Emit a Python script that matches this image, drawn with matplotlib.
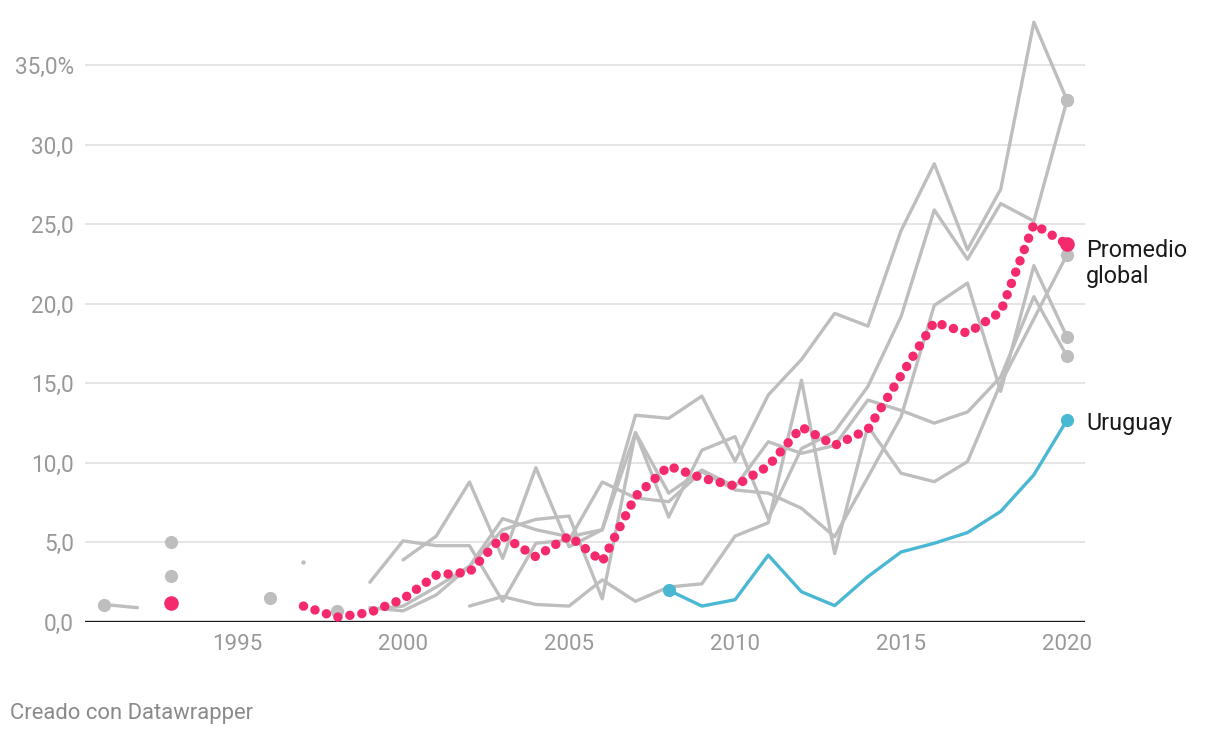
import numpy as np
import matplotlib
matplotlib.use("Agg")
import matplotlib.pyplot as plt

nan = np.nan
years = np.arange(1991, 2021)

# gray lines (other countries), 1991..2020
gris_1 = [1.1, 0.9, nan, nan, nan, nan, nan, nan, 2.5, 5.1, 4.8, 4.8, 1.3, 4.95, 5.15,
          8.8, 7.8, 7.56, 9.45, 8.3, 8.1, 7.15, 5.36, 9.1, 12.9, 19.9, 21.3, 14.5, 22.4, 17.9]
gris_2 = [nan, nan, 5.0, nan, nan, nan, 3.8, nan, 0.9, 0.7, 1.7, 3.5, 6.5, 5.8, 5.36,
          5.8, 13.0, 12.8, 14.2, 10.1, 14.27, 16.5, 19.4, 18.6, 24.6, 28.8, 23.4, 27.2, 37.7, 32.8]
gris_3 = [nan, nan, 2.9, nan, nan, nan, nan, nan, nan, 3.9, 5.4, 8.8, 4.0, 9.7, 4.73,
          5.8, 11.9, 6.6, 10.8, 11.65, 6.5, 10.9, 11.96, 14.8, 19.2, 25.9, 22.8, 26.3, 25.2, 32.8]
gris_4 = [nan, nan, nan, nan, nan, 1.5, nan, nan, 0.8, 1.0, 2.2, 3.5, 5.8, 6.45, 6.66,
          1.46, 11.9, 8.1, 9.55, 8.5, 11.33, 10.6, 11.1, 13.95, 13.3, 12.5, 13.2, 15.4, 20.45, 16.7]
gris_5 = [nan, nan, nan, nan, nan, nan, nan, 0.7, nan, nan, nan, 1.0, 1.6, 1.1, 1.0,
          2.65, 1.3, 2.2, 2.4, 5.4, 6.24, 15.2, 4.3, 12.3, 9.35, 8.82, 10.08, 15.0, 19.05, 23.1]

promedio = [nan, nan, 1.2, nan, nan, nan, 1.0, 0.3, 0.6, 1.45, 2.95, 3.14, 5.4, 4.1, 5.4,
            3.8, 7.9, 9.8, 9.05, 8.55, 9.8, 12.25, 11.1, 12.1, 15.5, 18.85, 18.15, 19.5, 25.0, 23.75]
uruguay = [nan] * 17 + [2.0, 1.0, 1.4, 4.2, 1.9, 1.03, 2.85, 4.4, 4.95, 5.62, 6.95, 9.25, 12.7]

yticks = [0, 5, 10, 15, 20, 25, 30, 35]
ylabels = ["0,0", "5,0", "10,0", "15,0", "20,0", "25,0", "30,0", "35,0%"]
xticks = [1995, 2000, 2005, 2010, 2015, 2020]

GRIS = "#bebebe"
ROSA = "#f52a6c"
AZUL = "#4bb8d3"
TXT = "#999999"

plt.rcParams["font.family"] = ["Roboto", "DejaVu Sans"]

fig = plt.figure(figsize=(12.2, 7.38), dpi=100)
ax = fig.add_axes([85 / 1220, 116 / 738, 1000 / 1220, 602 / 738])


def serie(vals, color, lw, ms, z, dotted=False):
    arr = np.array(vals, dtype=float)
    if dotted:
        ax.plot(years, arr, color=color, lw=lw, linestyle=(0, (0.01, 1.27)),
                dash_capstyle="round", zorder=z, clip_on=False)
    else:
        ax.plot(years, arr, color=color, lw=lw, solid_capstyle="round",
                solid_joinstyle="round", zorder=z, clip_on=False)
    idx = np.where(~np.isnan(arr))[0]
    ends = [idx[0], idx[-1]]
    ax.plot(years[ends], arr[ends], "o", color=color, ms=ms, mew=0, zorder=z + 0.5, clip_on=False)
    # lone points in the middle of gaps
    for i in idx[1:-1]:
        left = i == 0 or np.isnan(arr[i - 1])
        right = i == len(arr) - 1 or np.isnan(arr[i + 1])
        if left and right:
            ax.plot(years[i], arr[i], "o", color=color, ms=3.2, mew=0, zorder=z + 0.5)


for g in [gris_1, gris_2, gris_3, gris_4, gris_5]:
    serie(g, GRIS, 2.4, 9.5, 3)
serie(uruguay, AZUL, 2.4, 9.5, 5)
serie(promedio, ROSA, 6.8, 10.5, 6, dotted=True)

ax.set_xlim(1990.42, 2020.54)
ax.set_ylim(0, 37.84)

for y in yticks[1:]:
    ax.axhline(y, color="#e3e3e3", lw=1.3, zorder=1)
ax.axhline(0, color="#1a1a1a", lw=2.4, zorder=2)

ax.set_yticks(yticks)
ax.set_yticklabels(ylabels)
ax.set_xticks(xticks)
ax.set_xticklabels([str(x) for x in xticks])
ax.tick_params(axis="y", length=0, pad=8, labelsize=16.3, labelcolor=TXT)
ax.tick_params(axis="x", length=0, pad=9, labelsize=16, labelcolor=TXT)
for s in ax.spines.values():
    s.set_visible(False)

ax.text(2020.58, 22.55, "Promedio\nglobal", fontsize=16.8, color="#1a1a1a",
        ha="left", va="center", linespacing=1.18)
ax.text(2020.58, 12.45, "Uruguay", fontsize=16.8, color="#1a1a1a",
        ha="left", va="center")

fig.text(10 / 1220, 1 - 714 / 738, "Creado con Datawrapper", fontsize=15.8,
         color="#8a8a8a", ha="left", va="center")

fig.savefig("out.png", dpi=100)
